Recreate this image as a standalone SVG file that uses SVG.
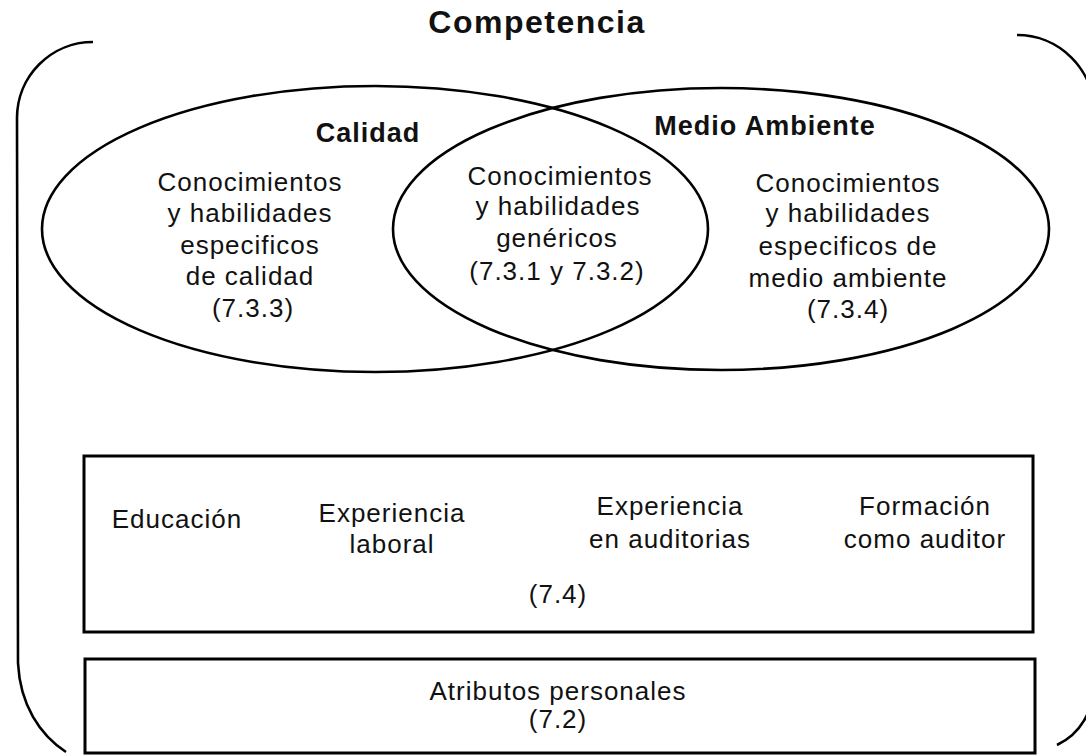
<svg xmlns="http://www.w3.org/2000/svg" width="1086" height="755" viewBox="0 0 1086 755">
<style>
.ln{fill:none;stroke:#000;stroke-width:2.6}
.bx{fill:none;stroke:#000;stroke-width:3}
.t{font-family:"Liberation Sans",Arial,sans-serif;font-size:26px;letter-spacing:1px;fill:#111;text-anchor:middle}
.b{font-family:"Liberation Sans",Arial,sans-serif;font-weight:bold;font-size:27px;letter-spacing:1px;fill:#111;text-anchor:middle}
</style>
<rect width="1086" height="755" fill="#fff"/>
<g id="competencia">
<path class="ln" d="M 93 42 A 76 76 0 0 0 17 118 L 18 663 C 20 705, 40 735, 66 752"/>
<path class="ln" d="M 1017 35 A 77 77 0 0 1 1094 112 L 1094 680 C 1094 712, 1080 734, 1057 745"/>
<text class="b" x="537" y="33" style="font-size:32px;letter-spacing:1.5px">Competencia</text>
</g>
<g id="calidad">
<ellipse class="ln" cx="375" cy="229" rx="333" ry="143"/>
<text class="b" x="368" y="142">Calidad</text>
<text class="t" x="250" y="191">Conocimientos</text>
<text class="t" x="250" y="222">y habilidades</text>
<text class="t" x="250" y="254">especificos</text>
<text class="t" x="250" y="285">de calidad</text>
<text class="t" x="253" y="317">(7.3.3)</text>
</g>
<g id="medio-ambiente">
<ellipse class="ln" cx="721" cy="229" rx="328" ry="141"/>
<text class="b" x="765" y="135">Medio Ambiente</text>
<text class="t" x="848" y="192">Conocimientos</text>
<text class="t" x="848" y="222">y habilidades</text>
<text class="t" x="848" y="255">especificos de</text>
<text class="t" x="848" y="287">medio ambiente</text>
<text class="t" x="848" y="318">(7.3.4)</text>
</g>
<g id="genericos">
<text class="t" x="560" y="185">Conocimientos</text>
<text class="t" x="558" y="215">y habilidades</text>
<text class="t" x="557" y="247">genéricos</text>
<text class="t" x="557" y="280">(7.3.1 y 7.3.2)</text>
</g>
<g id="box-7-4">
<rect class="bx" x="84" y="456" width="949" height="176"/>
<text class="t" x="177" y="528">Educación</text>
<text class="t" x="392" y="522">Experiencia</text>
<text class="t" x="392" y="553">laboral</text>
<text class="t" x="670" y="515">Experiencia</text>
<text class="t" x="670" y="548">en auditorias</text>
<text class="t" x="925" y="515">Formación</text>
<text class="t" x="925" y="548">como auditor</text>
<text class="t" x="558" y="603">(7.4)</text>
</g>
<g id="box-7-2">
<rect class="bx" x="85" y="659" width="950" height="94"/>
<text class="t" x="558" y="700">Atributos personales</text>
<text class="t" x="558" y="728">(7.2)</text>
</g>
<g id="connectors"></g>
</svg>
